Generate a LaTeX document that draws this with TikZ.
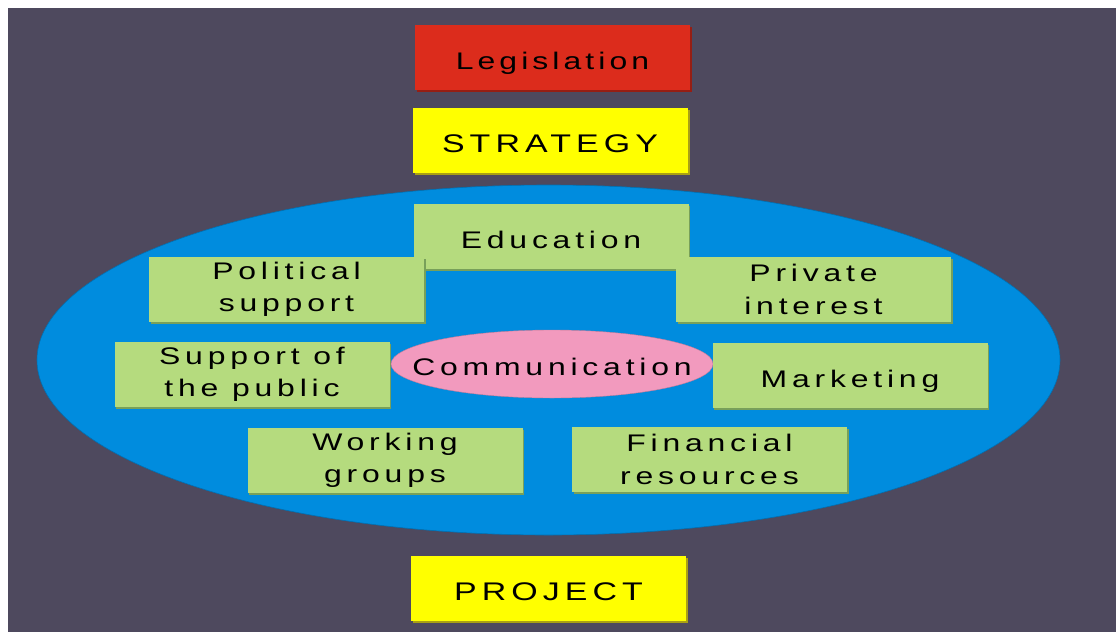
\documentclass[tikz,border=0pt]{standalone}
\usepackage{fontspec}
\setmainfont{Liberation Sans}
\newfontfamily\spacedfont[FakeStretch=1.33,LetterSpace=20]{Liberation Sans}
\newfontfamily\legfont[FakeStretch=1.33,LetterSpace=17]{Liberation Sans}
\usetikzlibrary{shapes.geometric,shadows}
\definecolor{bgdark}{RGB}{78,73,94}
\definecolor{fieldblue}{RGB}{0,140,222}
\definecolor{boxgreen}{RGB}{181,219,126}
\definecolor{boxgreenedge}{RGB}{120,160,90}
\definecolor{legred}{RGB}{220,44,28}
\definecolor{legrededge}{RGB}{150,30,20}
\definecolor{stratyellow}{RGB}{255,255,0}
\definecolor{yellowedge}{RGB}{170,160,20}
\definecolor{commpink}{RGB}{242,154,190}
\begin{document}
\begin{tikzpicture}[x=1pt,y=-1pt,
  basebox/.style={rectangle, inner sep=0pt, minimum width=275pt, minimum height=65pt,
    align=center, text=black},
  oneline/.style={text height=23pt, text depth=0pt},
  greenbox/.style={basebox, fill=boxgreen,
    drop shadow={shadow xshift=1.5pt, shadow yshift=-1.5pt, fill=boxgreenedge, opacity=1},
    font=\spacedfont\fontsize{24}{32.5}\selectfont},
  redbox/.style={basebox, oneline, fill=legred,
    drop shadow={shadow xshift=2pt, shadow yshift=-2pt, fill=legrededge, opacity=1},
    font=\legfont\fontsize{24}{32.5}\selectfont},
  yellowbox/.style={basebox, oneline, fill=stratyellow,
    drop shadow={shadow xshift=2pt, shadow yshift=-2pt, fill=yellowedge, opacity=1},
    font=\spacedfont\fontsize{25.5}{32.5}\selectfont}
]
\useasboundingbox (0,0) rectangle (1116,632);
\fill[white] (0,0) rectangle (1116,632);
\fill[bgdark] (8,8) rectangle (1116,632);

% outer field
\node[ellipse, fill=fieldblue, draw=fieldblue!80!black, line width=0.6pt,
  minimum width=1023pt, minimum height=350pt, inner sep=0pt] (field) at (548.5,360) {};

% top and bottom boxes
\node[redbox] (leg) at (552.5,57.5) {Legislation};
\node[yellowbox] (strat) at (550,140.5) {STRATEGY};
\node[yellowbox] (proj) at (548.5,588.5) {PROJECT};

% inner boxes
\node[greenbox, oneline] (edu) at (551,236.5) {Education};
\node[greenbox] (pol) at (286.5,289.5) {Political\\support};
\node[greenbox] (priv) at (813.5,289.5) {Private\\interest};
\node[greenbox] (supp) at (252,374.5) {Support of\\the public};
\node[ellipse, fill=commpink, draw=commpink!80!black, line width=0.4pt,
  minimum width=322pt, minimum height=68pt, inner sep=0pt] (comm) at (552,364) {};
\node[inner sep=0pt, oneline, font=\spacedfont\fontsize{24}{32.5}\selectfont]
  (commtext) at (comm.center) {Communication};
\node[greenbox, oneline] (mkt) at (850,375.5) {Marketing};
\node[greenbox] (work) at (385,460.5) {Working\\groups};
\node[greenbox] (fin) at (709.5,459.5) {Financial\\resources};
\end{tikzpicture}
\end{document}
